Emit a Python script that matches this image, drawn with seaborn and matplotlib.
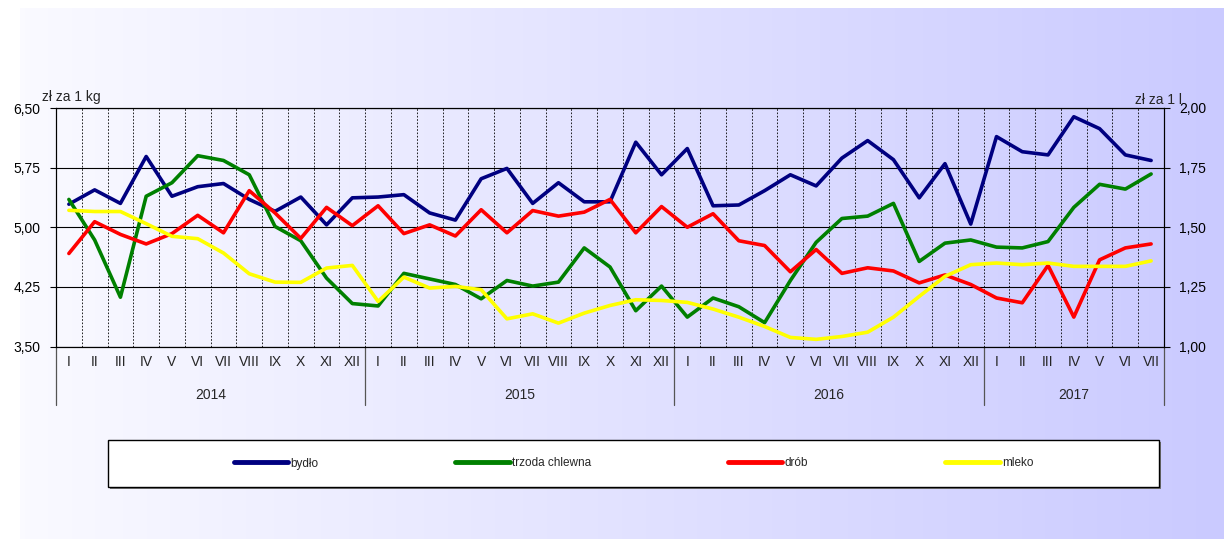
import numpy as np
import pandas as pd
import matplotlib.pyplot as plt
import matplotlib.patches as mpatches
import matplotlib.transforms as mtransforms
import seaborn as sns

# miesiace i lata
months = ['I', 'II', 'III', 'IV', 'V', 'VI', 'VII', 'VIII', 'IX', 'X', 'XI', 'XII'] * 3 + \
         ['I', 'II', 'III', 'IV', 'V', 'VI', 'VII']
years = ['2014', '2015', '2016', '2017']

# ceny (zl za 1 kg)
bydlo = [5.29, 5.47, 5.30, 5.89, 5.39, 5.51, 5.55, 5.35, 5.20, 5.38, 5.03, 5.37,
         5.38, 5.41, 5.18, 5.09, 5.61, 5.74, 5.30, 5.56, 5.32, 5.32, 6.07, 5.66,
         5.99, 5.27, 5.28, 5.46, 5.66, 5.52, 5.87, 6.09, 5.85, 5.37, 5.80, 5.04,
         6.14, 5.95, 5.91, 6.39, 6.24, 5.91, 5.84]
trzoda = [5.35, 4.84, 4.12, 5.39, 5.56, 5.90, 5.84, 5.66, 5.01, 4.83, 4.36, 4.04,
          4.01, 4.42, 4.35, 4.28, 4.10, 4.33, 4.26, 4.31, 4.74, 4.50, 3.95, 4.26,
          3.87, 4.11, 4.00, 3.80, 4.33, 4.81, 5.11, 5.14, 5.30, 4.57, 4.80, 4.84,
          4.75, 4.74, 4.82, 5.25, 5.54, 5.48, 5.67]
drob = [4.67, 5.07, 4.91, 4.79, 4.92, 5.15, 4.93, 5.46, 5.18, 4.86, 5.25, 5.02,
        5.27, 4.92, 5.03, 4.89, 5.22, 4.93, 5.21, 5.14, 5.19, 5.35, 4.93, 5.26,
        5.00, 5.17, 4.83, 4.77, 4.44, 4.72, 4.42, 4.49, 4.45, 4.30, 4.40, 4.28,
        4.11, 4.05, 4.52, 3.87, 4.59, 4.74, 4.79]
# mleko (zl za 1 l) - prawa os
mleko = [1.571, 1.566, 1.566, 1.515, 1.462, 1.452, 1.392, 1.305, 1.270, 1.269, 1.329, 1.340,
         1.189, 1.291, 1.245, 1.252, 1.238, 1.116, 1.137, 1.098, 1.140, 1.172, 1.196, 1.193,
         1.185, 1.157, 1.123, 1.084, 1.038, 1.030, 1.042, 1.060, 1.123, 1.210, 1.294, 1.343,
         1.350, 1.343, 1.350, 1.336, 1.336, 1.336, 1.359]

df = pd.DataFrame({'idx': np.arange(len(months)), 'bydło': bydlo,
                   'trzoda chlewna': trzoda, 'drób': drob, 'mleko': mleko})

sns.set_style('white')
plt.rcParams['font.family'] = ['Liberation Sans', 'DejaVu Sans']

W, H = 1224, 539
fig = plt.figure(figsize=(W / 100, H / 100), dpi=100)
fig.patch.set_facecolor('white')

# tlo - gradient
bg = fig.add_axes([20 / W, 0, 1 - 20 / W, 531 / H], zorder=-10)
grad = np.linspace(0, 1, 256)
c0 = np.array([250, 250, 255]) / 255
c1 = np.array([202, 202, 255]) / 255
img = (c0[None, :] * (1 - grad[:, None]) + c1[None, :] * grad[:, None])[None, :, :]
bg.imshow(img, aspect='auto', extent=[0, 1, 0, 1])
bg.axis('off')

x0, x1, ytop, ybot = 56, 1164, 108, 346.5
ax = fig.add_axes([x0 / W, 1 - ybot / H, (x1 - x0) / W, (ybot - ytop) / H])
ax.set_facecolor('none')
ax2 = ax.twinx()

sns.lineplot(data=df, x='idx', y='bydło', ax=ax, color='#000080', lw=2.6, label='bydło')
sns.lineplot(data=df, x='idx', y='trzoda chlewna', ax=ax, color='#008000', lw=2.6, label='trzoda chlewna')
sns.lineplot(data=df, x='idx', y='drób', ax=ax, color='#FF0000', lw=2.6, label='drób')
sns.lineplot(data=df, x='idx', y='mleko', ax=ax2, color='#FFFF00', lw=2.6, label='mleko')
for a in (ax, ax2):
    if a.get_legend() is not None:
        a.get_legend().remove()

n = len(months)
ax.set_xlim(-0.5, n - 0.5)
ax.set_ylim(3.5, 6.5)
ax2.set_ylim(1.0, 2.0)
ax.set_xlabel('')
ax.set_ylabel('')
ax2.set_ylabel('')

lt = [3.5, 4.25, 5.0, 5.75, 6.5]
ax.set_yticks(lt)
ax.set_yticklabels([f'{v:.2f}'.replace('.', ',') for v in lt], fontsize=10)
rt = [1.0, 1.25, 1.5, 1.75, 2.0]
ax2.set_yticks(rt)
ax2.set_yticklabels([f'{v:.2f}'.replace('.', ',') for v in rt], fontsize=10)
ax.tick_params(axis='y', direction='out', length=4, width=0.8, pad=7, colors='black')
ax2.tick_params(axis='y', direction='out', length=4, width=0.8, pad=7, colors='black')

# miesiace jako etykiety osi x, separatory jako minor ticks
ax.set_xticks(np.arange(n))
ax.set_xticklabels(months, fontsize=10)
ax.set_xticks(np.arange(n + 1) - 0.5, minor=True)
ax.tick_params(axis='x', which='major', length=0, pad=6)
ax.tick_params(axis='x', which='minor', direction='out', length=21, width=0.8, color='#555555')

ax.grid(axis='y', which='major', color='black', lw=0.8)
ax.grid(axis='x', which='minor', color='black', lw=0.6, linestyle=(0, (2, 2)))
ax2.grid(False)
for a in (ax, ax2):
    for s in a.spines.values():
        s.set_color('black')
        s.set_linewidth(0.8)

# lata
trans = mtransforms.blended_transform_factory(ax.transData, ax.transAxes)
ybar = -(405 - ybot) / (ybot - ytop)
for b in [-0.5, 11.5, 23.5, 35.5, n - 0.5]:
    ax.plot([b, b], [0, ybar], transform=trans, color='#555555', lw=0.9, clip_on=False)
for i, yr in enumerate(years):
    lo = i * 12
    hi = min(lo + 11, n - 1)
    ax.text((lo + hi) / 2, -(395 - ybot) / (ybot - ytop), yr, transform=trans,
            ha='center', va='center', fontsize=10)

fig.text(42 / W, 1 - 97 / H, 'zł za 1 kg', ha='left', va='center', fontsize=10)
fig.text(1135 / W, 1 - 100 / H, 'zł za 1 l', ha='left', va='center', fontsize=10)

# legenda w ramce
bx0, bx1, by0, by1 = 108, 1159, 440, 487
shadow = mpatches.Rectangle((bx0 / W + 2 / W, 1 - by1 / H - 2 / H), (bx1 - bx0) / W, (by1 - by0) / H,
                            transform=fig.transFigure, facecolor='#777777', edgecolor='none', zorder=1)
box = mpatches.Rectangle((bx0 / W, 1 - by1 / H), (bx1 - bx0) / W, (by1 - by0) / H,
                         transform=fig.transFigure, facecolor='white', edgecolor='black', lw=1, zorder=2)
fig.patches.extend([shadow, box])
handles = [h for h in ax.get_lines() if h.get_label() in ('bydło', 'trzoda chlewna', 'drób')] + \
          [h for h in ax2.get_lines() if h.get_label() == 'mleko']
leg = fig.legend(handles, [h.get_label() for h in handles], loc='center',
                 bbox_to_anchor=((bx0 + bx1) / 2 / W, 1 - (by0 + by1) / 2 / H), ncol=4,
                 frameon=False, fontsize=8.5, handlelength=4.6, handletextpad=0.2,
                 columnspacing=11.6)
for l in leg.get_lines():
    l.set_linewidth(3.5)
leg.set_zorder(3)

fig.savefig('out.png', dpi=100)
